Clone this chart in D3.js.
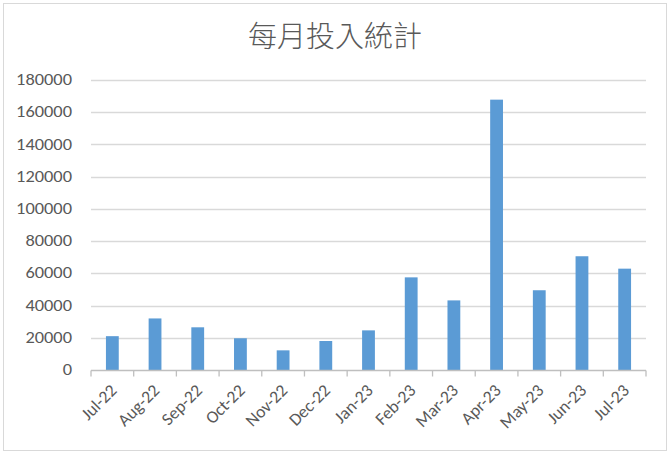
<!DOCTYPE html>
<html>
<head>
<meta charset="utf-8">
<script src="https://cdn.jsdelivr.net/npm/d3@7"></script>
<style>
  body { margin: 0; background: #fff; }
  text { font-family: Carlito, Calibri, "Liberation Sans", "Noto Sans", sans-serif; }
</style>
</head>
<body>
<svg id="chart" width="670" height="454"></svg>
<script>
// monthly amounts
const months = ["Jul-22", "Aug-22", "Sep-22", "Oct-22", "Nov-22", "Dec-22", "Jan-23",
                "Feb-23", "Mar-23", "Apr-23", "May-23", "Jun-23", "Jul-23"];
const amounts = [21000, 32000, 26500, 19700, 12200, 18000, 24600,
                 57500, 43200, 167800, 49500, 70600, 62900];
const yTicks = [0, 20000, 40000, 60000, 80000, 100000, 120000, 140000, 160000, 180000];
const title = "每月投入統計";

const svg = d3.select("#chart");
const margin = {top: 80, right: 24, bottom: 84, left: 91},
  width = 646 - margin.left,
  height = 370 - margin.top;

// outer frame
svg.append("rect")
  .attr("x", 3.5).attr("y", 3.5)
  .attr("width", 663).attr("height", 447)
  .attr("fill", "#fff").attr("stroke", "#d9d9d9");

svg.append("text")
  .attr("x", 335).attr("y", 47)
  .attr("text-anchor", "middle")
  .attr("font-size", 29)
  .attr("fill", "#595959")
  .style("font-family", "'Noto Sans CJK TC', 'Noto Sans CJK SC', sans-serif")
  .style("font-weight", 300)
  .text(title);

const g = svg.append("g")
  .attr("transform", "translate(" + margin.left + "," + margin.top + ")");

const x = d3.scaleBand().domain(months).range([0, width]);
const y = d3.scaleLinear().domain([0, 180000]).range([height, 0]);

// gridlines
g.append("g")
  .selectAll("line")
  .data(yTicks.slice(1))
  .enter().append("line")
  .attr("x1", 0).attr("x2", width)
  .attr("y1", d => Math.round(y(d)) + 0.5)
  .attr("y2", d => Math.round(y(d)) + 0.5)
  .attr("stroke", "#d9d9d9")
  .attr("stroke-width", 1.3);

// y axis labels (slightly widened like the original)
g.append("g")
  .selectAll("text")
  .data(yTicks)
  .enter().append("text")
  .attr("text-anchor", "end")
  .attr("dy", "0.32em")
  .attr("font-size", 16)
  .attr("fill", "#595959")
  .attr("transform", d => "translate(-19," + y(d) + ") scale(1.15,1)")
  .text(d3.format("d"));

// bars
const barW = x.bandwidth() * 0.3;
g.selectAll(".bar")
  .data(amounts)
  .enter().append("rect")
  .attr("class", "bar")
  .attr("x", (d, i) => x(months[i]) + (x.bandwidth() - barW) / 2)
  .attr("width", barW)
  .attr("y", d => y(d))
  .attr("height", d => height - y(d))
  .attr("fill", "#5b9bd5");

// x axis with tick marks at band edges
const xAxis = g.append("g")
  .attr("transform", "translate(0," + (height + 0.5) + ")");
xAxis.append("line")
  .attr("x1", 0).attr("x2", width)
  .attr("stroke", "#bfbfbf").attr("stroke-width", 1.3);
xAxis.selectAll(".tk")
  .data(months.concat(["end"]))
  .enter().append("line")
  .attr("class", "tk")
  .attr("x1", (d, i) => i * x.step())
  .attr("x2", (d, i) => i * x.step())
  .attr("y1", 0).attr("y2", 6)
  .attr("stroke", "#bfbfbf").attr("stroke-width", 1.3);
xAxis.selectAll(".lbl")
  .data(months)
  .enter().append("text")
  .attr("class", "lbl")
  .attr("text-anchor", "end")
  .attr("font-size", 17.5)
  .attr("fill", "#595959")
  .attr("transform", d => "translate(" + (x(d) + x.bandwidth() / 2 + 5.5) + ",21) rotate(-45)")
  .text(d => d);
</script>
</body>
</html>
